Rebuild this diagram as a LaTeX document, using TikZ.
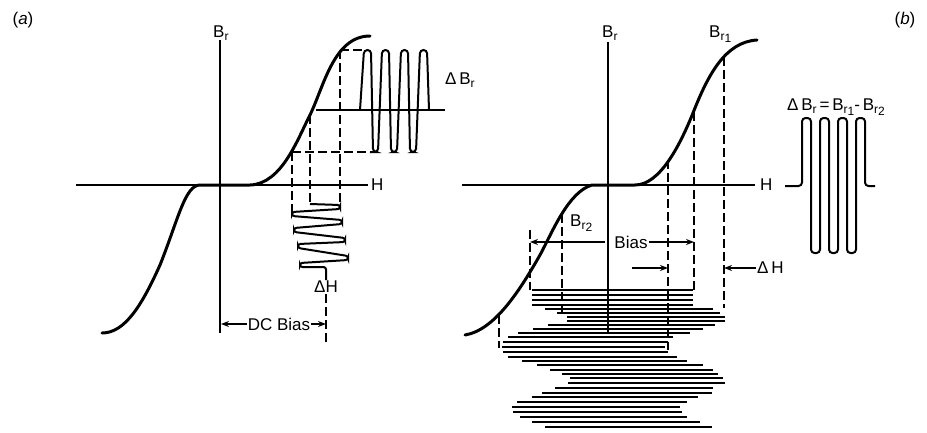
\documentclass[tikz,border=0pt]{standalone}
\usepackage{fontspec}
\setmainfont{Liberation Sans}
\usetikzlibrary{arrows.meta,positioning,calc}

\newcommand{\subidx}[1]{\raisebox{-0.35ex}{\fontsize{12}{12}\selectfont #1}}
\newcommand{\Bsub}[1]{B\subidx{#1}}

\begin{document}
\begin{tikzpicture}[
    x=1pt, y=-1pt,
    lbl/.style={font=\fontsize{17}{19}\selectfont, inner sep=1pt},
    axis/.style={line width=1.5pt},
    curve/.style={line width=3pt, line cap=round},
    guide/.style={line width=1.3pt, dash pattern=on 9pt off 4pt},
    wave/.style={line width=2pt, rounded corners=3.5pt},
    hatch/.style={line width=1.3pt},
    arrow/.style={-{Stealth[length=8pt,width=6pt]}, line width=1.3pt},
]
\useasboundingbox (0,0) rectangle (927,432);

% panel tags
\node[lbl] (tagA) at (23,20) {(\textit{a})};
\node[lbl] (tagB) at (905,20) {(\textit{b})};

% ---------------- (a) ----------------
% axes
\coordinate (aHl) at (76,185);
\coordinate (aHr) at (368,185);
\coordinate (aBt) at (220,40);
\coordinate (aBb) at (220,333);
\draw[axis] (aHl) -- (aHr);
\draw[axis] (aBt) -- (aBb);
\node[lbl, right=2pt of aHr] (aH) {H};
\node[lbl, anchor=base west] (aBr) at (212,37) {\Bsub{r}};

% magnetisation curve
\draw[curve] (102,333) .. controls (125,333) and (142,305) .. (160,265)
    .. controls (178,220) and (185,185) .. (200,185) -- (250,185)
    .. controls (282,184) and (298,138) .. (310,115)
    .. controls (324,86) and (334,36) .. (370,36);

% points on the curve
\coordinate (aP1) at (292,152);
\coordinate (aP2) at (310,115);
\coordinate (aP3) at (340,50);

% output wave
\coordinate (aWs) at (360,110);
\coordinate (aWe) at (429,110);
\coordinate (aBl) at (316,110);
\coordinate (aBe) at (445,110);
\draw[axis] (aBl) -- (aBe);
\draw[wave] (aWs) -- (364,50) -- (371,50) -- (373,152) -- (378,152) -- (382,50)
    -- (389,50) -- (391,152) -- (397,152) -- (401,50) -- (408,50) -- (410,152)
    -- (416,152) -- (420,50) -- (427,50) -- (aWe);
\node[lbl, anchor=west] (aDB) at (444,80) {Δ\,\Bsub{r}};

% projections
\coordinate (aT1) at (363,50);
\coordinate (aT2) at (373,152);
\coordinate (aD1) at (292,213);
\coordinate (aD2) at (310,204);
\coordinate (aD3) at (340,205);
\draw[guide] (aP3) -- (aT1);
\draw[guide] (aP1) -- (aT2);
\draw[guide] (aP1) -- (aD1);
\draw[guide] (aP2) -- (aD2);
\draw[guide] (aP3) -- (aD3);

% input wave
\coordinate (aHs) at (310,204);
\coordinate (aHe) at (326,280);
\draw[wave, rounded corners=2.5pt] (aHs) -- (340,205) -- (340,209) -- (292,212) -- (292,216)
    -- (342,220) -- (342,224) -- (294,228) -- (294,232) -- (345,238) -- (345,242)
    -- (298,244) -- (298,248) -- (348,256) -- (348,260) -- (300,263) -- (300,267)
    -- (326,267) -- (aHe);
\node[lbl, below=0pt of aHe] (aDH) {ΔH};

% DC bias
\coordinate (aDCb) at (326,345);
\coordinate (aDCl) at (221,324);
\coordinate (aDCr) at (326,324);
\draw[guide] (aDH.south) -- (aDCb);
\node[lbl] (aDC) at (279,324) {DC Bias};
\draw[arrow] (aDC) -- (aDCl);
\draw[arrow] (aDC) -- (aDCr);

% ---------------- (b) ----------------
% axes
\coordinate (bHl) at (462,185);
\coordinate (bHr) at (755,185);
\coordinate (bBt) at (608,42);
\coordinate (bBb) at (608,332);
\draw[axis] (bHl) -- (bHr);
\draw[axis] (bBt) -- (bBb);
\node[lbl, right=4pt of bHr] (bH) {H};
\node[lbl, anchor=base west] (bBr) at (601,37) {\Bsub{r}};

% magnetisation curve
\draw[curve] (465,335) .. controls (495,330) and (520,290) .. (540,255)
    .. controls (552,233) and (568,192) .. (592,185) -- (635,185)
    .. controls (660,185) and (680,145) .. (693,113)
    .. controls (708,75) and (725,42) .. (757,40);
\node[lbl, anchor=base west] (bBr1) at (708,37) {\Bsub{r\subidx{1}}};
\node[lbl, anchor=base west] (bBr2) at (569,226) {\Bsub{r\subidx{2}}};

% points on the curve
\coordinate (bP1) at (499,315);
\coordinate (bP3) at (562,214);
\coordinate (bP4) at (668,160);
\coordinate (bP5) at (694,112);
\coordinate (bP6) at (724,57);

% field sweep
\foreach \ya/\xl/\xr in {290/532/693, 295/532/693, 300/532/693, 305/532/693,
    309/545/713, 313/557/720, 317/567/725, 321/567/725, 325/548/715, 329/533/703,
    333/518/690, 337/508/673, 342/503/668, 347/502/665, 352/503/668, 357/508/677,
    361/522/687, 365/537/703, 370/550/713, 374/562/718, 378/570/723, 383/568/725,
    388/555/713, 393/542/712, 397/532/698, 402/517/687, 407/512/680, 412/513/682,
    417/520/687, 422/532/700, 427/545/712}
    \draw[hatch] (\xl,\ya) -- (\xr,\ya);

% projections
\coordinate (bE1) at (499,348);
\coordinate (bE2t) at (530,230);
\coordinate (bE2) at (530,290);
\coordinate (bE3) at (562,313);
\coordinate (bE4) at (668,350);
\coordinate (bE5) at (694,290);
\coordinate (bE6) at (724,308);
\draw[guide] (bP1) -- (bE1);
\draw[guide] (bE2t) -- (bE2);
\draw[guide] (bP3) -- (bE3);
\draw[guide] (bP4) -- (bE4);
\draw[guide] (bP5) -- (bE5);
\draw[guide] (bP6) -- (bE6);

% bias
\node[lbl] (bBias) at (631,242) {Bias};
\coordinate (bBiasL) at (530,242);
\coordinate (bBiasR) at (694,242);
\draw[arrow, shorten <=8pt] (bBias) -- (bBiasL);
\draw[arrow] (bBias) -- (bBiasR);

% delta H
\coordinate (bDHs) at (632,268);
\coordinate (bDHl) at (668,268);
\coordinate (bDHr) at (724,268);
\node[lbl, anchor=west] (bDH) at (756,268) {Δ\,H};
\draw[arrow] (bDHs) -- (bDHl);
\draw[arrow] (bDH) -- (bDHr);

% output wave
\coordinate (bWs) at (785,186);
\coordinate (bWe) at (875,186);
\draw[wave] (bWs) -- (802,186) -- (802,118) -- (811,118) -- (811,253) -- (820,253)
    -- (820,118) -- (829,118) -- (829,253) -- (838,253) -- (838,118) -- (847,118)
    -- (847,253) -- (856,253) -- (856,118) -- (865,118) -- (865,186) -- (bWe);
\node[lbl, anchor=base west] (bDB) at (786,110)
    {Δ\,\Bsub{r}\,=\,\Bsub{r\subidx{1}}-\,\Bsub{r\subidx{2}}};

\end{tikzpicture}
\end{document}
